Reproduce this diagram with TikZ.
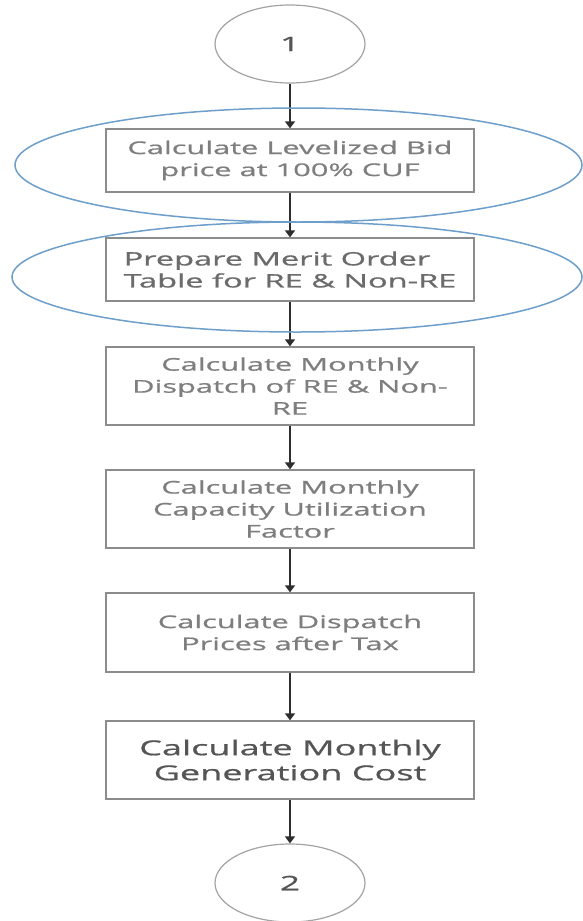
\documentclass[tikz,border=0pt]{standalone}
\usepackage{fontspec}
\usetikzlibrary{shapes.geometric,arrows.meta}
\newfontfamily\flowfont[FakeStretch=1.76, FakeBold=0.9]{Open Sans}
\definecolor{boxline}{HTML}{8C8C8C}
\definecolor{boxtext}{HTML}{7E7E7E}
\definecolor{darktext}{HTML}{555555}
\definecolor{arrowcol}{HTML}{2E2E2E}
\definecolor{ringblue}{HTML}{6E9FCB}
\tikzset{
  stepbox/.style={draw=boxline, line width=1.3pt, fill=white, minimum width=368pt,
    inner sep=0pt, align=center, text=boxtext,
    font=\flowfont\fontsize{17.5}{22}\selectfont},
  connector/.style={ellipse, draw=boxline!80, line width=1.2pt, minimum width=150pt,
    minimum height=78pt, inner sep=0pt, text=darktext,
    font=\flowfont\fontsize{20}{24}\selectfont},
  flow/.style={draw=arrowcol, line width=1.4pt, -{Triangle[width=10pt,length=7pt]}},
  ring/.style={ellipse, draw=ringblue, line width=1.5pt, inner sep=0pt}
}
\begin{document}
\begin{tikzpicture}[x=1pt, y=-1pt]
  \fill[white] (0,0) rectangle (582,921);
  \useasboundingbox (0,0) rectangle (582,921);

  % start and end connectors
  \node[connector] (c1) at (290,44) {1};
  \node[connector] (c2) at (290,883) {2};

  % process steps
  \node[stepbox, minimum height=63pt] (b1) at (290,160.5)
    {Calculate Levelized Bid\\price at 100\% CUF};
  \node[stepbox, minimum height=63pt, align=left, text=boxtext!85!black,
        font=\flowfont\fontsize{18.5}{22}\selectfont] (b2) at (290,269.5)
    {Prepare Merit Order\\Table for RE \& Non-RE};
  \node[stepbox, minimum height=78pt] (b3) at (290,386)
    {Calculate Monthly\\Dispatch of RE \& Non-\\RE};
  \node[stepbox, minimum height=78pt] (b4) at (290,509)
    {Calculate Monthly\\Capacity Utilization\\Factor};
  \node[stepbox, minimum height=79pt] (b5) at (290,632.5)
    {Calculate Dispatch\\Prices after Tax};
  \node[stepbox, minimum height=78pt, text=darktext,
        font=\flowfont\fontsize{20.5}{25}\selectfont] (b6) at (290,760)
    {Calculate Monthly\\Generation Cost};

  % flow arrows
  \draw[flow] (c1) -- (b1);
  \draw[flow] (b1) -- (b2);
  \draw[flow] (b2) -- (b3);
  \draw[flow] (b3) -- (b4);
  \draw[flow] (b4) -- (b5);
  \draw[flow] (b5) -- (b6);
  \draw[flow] (b6) -- (c2);

  % highlight rings around the first two steps
  \node[ring, minimum width=567pt, minimum height=114pt] (r1) at (298.5,165) {};
  \node[ring, minimum width=570pt, minimum height=110pt] (r2) at (297,277) {};
\end{tikzpicture}
\end{document}
